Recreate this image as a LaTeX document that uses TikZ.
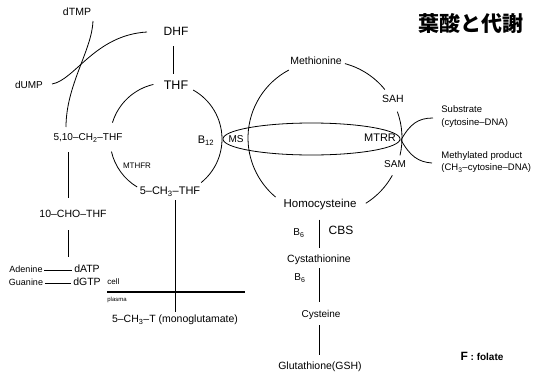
\documentclass[tikz,border=0pt]{standalone}
\usepackage{fontspec}
\setmainfont{Liberation Sans}
\newfontfamily\cjk{Noto Sans CJK JP}
\usetikzlibrary{calc}
\newcommand{\fs}[1]{\fontsize{#1}{#1}\selectfont}
\begin{document}
\begin{tikzpicture}[x=1pt,y=1pt, line width=0.8pt,
  every node/.style={inner sep=0pt, text height=.75em, text depth=.2em},
  lab/.style={font=\fs{#1}},
  gap/.style 2 args={shorten <=#1pt, shorten >=#2pt}]
\useasboundingbox (0,0) rectangle (545,-375);
\fill[white] (0,0) rectangle (545,-375);

% ---- title
\node[font=\cjk\bfseries\fs{21}, text height=, text depth=] (title) at (471,-24) {葉酸と代謝};

% ---- folate cycle labels
\node[lab=10.5] (dTMP) at (77,-13) {dTMP};
\node[lab=12] (DHF) at (176,-33) {DHF};
\node[lab=12.5] (THF) at (176,-87) {THF};
\node[lab=10] (dUMP) at (29,-86) {dUMP};
\node[lab=10] (p510) at (88,-138) {5,10--CH\textsubscript{2}--THF};
\node[lab=8] (MTHFR) at (137,-166) {MTHFR};
\node[lab=11] (B12) at (206,-141) {B\textsubscript{12}};
\node[lab=11] (mTHF) at (170,-192) {5--CH\textsubscript{3}--THF};
\node[lab=10.5] (cho) at (73,-215) {10--CHO--THF};
\node[lab=9] (ade) at (26,-270) {Adenine};
\node[lab=10.5] (dATP) at (87,-270) {dATP};
\node[lab=9] (gua) at (26,-283) {Guanine};
\node[lab=10.5] (dGTP) at (87,-283) {dGTP};
\node[lab=8, anchor=west] (cell) at (107,-282) {cell};
\node[lab=6, anchor=west] (plasma) at (107,-299) {plasma};
\node[lab=10.5] (mono) at (175,-320) {5--CH\textsubscript{3}--T (monoglutamate)};

% ---- methionine cycle labels
\node[lab=10.5] (Met) at (316,-62) {Methionine};
\node[lab=10.5] (SAH) at (393,-100) {SAH};
\node[lab=10] (SAM) at (395,-165) {SAM};
\node[lab=10] (MS) at (236,-140) {MS};
\node[lab=11] (MTRR) at (380,-139) {MTRR};
\node[lab=9.5, anchor=west] (sub1) at (441,-110) {Substrate};
\node[lab=9.5, anchor=west] (sub2) at (441,-123) {(cytosine--DNA)};
\node[lab=9.5, anchor=west] (met1) at (441,-156) {Methylated product};
\node[lab=9.5, anchor=west] (met2) at (441,-168) {(CH\textsubscript{3}--cytosine--DNA)};
\node[lab=11.5] (Hcy) at (320,-205) {Homocysteine};
\node[lab=10] (B6a) at (299,-233) {B\textsubscript{6}};
\node[lab=12] (CBS) at (341,-232) {CBS};
\node[lab=10.5] (Cth) at (319,-260) {Cystathionine};
\node[lab=10] (B6b) at (300,-278) {B\textsubscript{6}};
\node[lab=10] (Cys) at (321,-315) {Cysteine};
\node[lab=10.5] (GSH) at (320,-367) {Glutathione(GSH)};
\node[font=\bfseries\fs{10}] (fol) at (482,-358) {{\fs{12}F} : folate};

% ---- free ends
\coordinate (lx) at (68,0);
\coordinate (aend) at (68,-257);
\coordinate (m1) at (107,-292);
\coordinate (m2) at (245,-292);
\coordinate (uS) at (52,-84);
\coordinate (uE) at (147,-32);
\coordinate (tS) at (93,-21);
\coordinate (tE) at (66,-127);
\coordinate (tip) at (401,-140);
\coordinate (subE) at (433,-118);
\coordinate (metE) at (432,-163);
\coordinate (C1) at (166,-139);
\coordinate (C2) at (325,-138);

% ---- straight connectors
\draw[gap={8}{8}] (DHF.south -| 173,0) -- (THF.north -| 173,0);
\draw[gap={9}{12}] (p510.south -| lx) -- (cho.north -| lx);
\draw[gap={10}{0}] (cho.south -| lx) -- (aend);
\draw[gap={1.5}{1.5}] (ade.east) -- (dATP.west);
\draw[gap={1.5}{1.5}] (gua.east) -- (dGTP.west);
\draw[gap={3}{3}] (mTHF.south -| mono) -- (mono.north);
\draw[line width=1.1pt] (m1) -- (m2);
\draw[gap={9.5}{7}] (Hcy.south -| 319,0) -- (Cth.north -| 319,0);
\draw[gap={3}{8}] (Cth.south -| 319,0) -- (Cys.north -| 319,0);
\draw[gap={5}{7}] (Cys.south -| 319,0) -- (GSH.north -| 319,0);

% ---- curves (thymidylate)
\draw (uS) .. controls (75,-80) and (95,-35) .. (uE);
\draw (tS) .. controls (92,-50) and (66,-85) .. (tE);

% ---- folate circle
\draw (C1) ++(103:56pt) arc[start angle=103, end angle=163, radius=56pt];
\draw (C1) ++(193:56pt) arc[start angle=193, end angle=239, radius=56pt];
\draw (C1) ++(61:56pt) arc[start angle=61, end angle=-51, radius=56pt];

% ---- methionine circle
\draw (C2) ++(118:77pt) arc[start angle=118, end angle=230, radius=77pt];
\draw (C2) ++(75:77pt) arc[start angle=75, end angle=39, radius=77pt];
\draw (C2) ++(20:77pt) arc[start angle=20, end angle=-13, radius=77pt];
\draw (C2) ++(-29:77pt) arc[start angle=-29, end angle=-58, radius=77pt];

% ---- MS / MTRR ellipse
\draw (311.5,-139) ellipse[x radius=88.5pt, y radius=16pt];

% ---- methyl transfer
\draw (tip) .. controls (410,-124) and (418,-118) .. (subE);
\draw (tip) .. controls (410,-156) and (418,-162) .. (metE);
\end{tikzpicture}
\end{document}
